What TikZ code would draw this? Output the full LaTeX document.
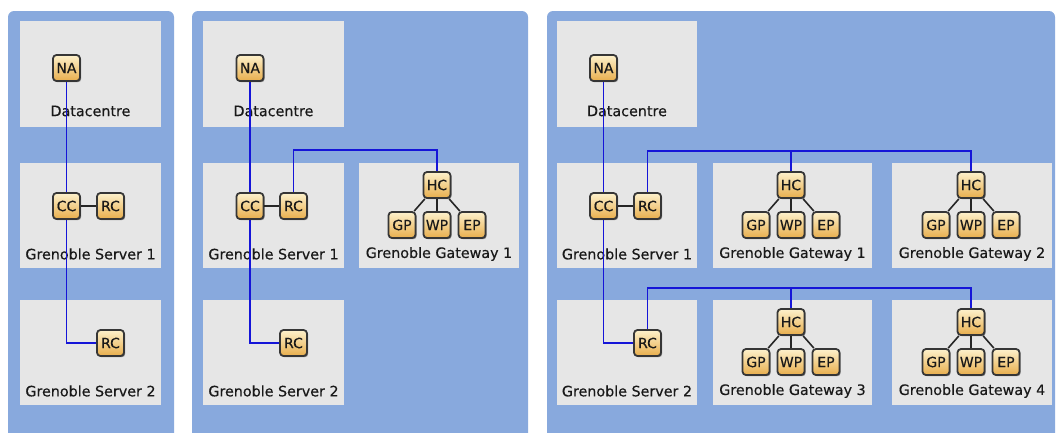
\documentclass[tikz,border=0pt]{standalone}
\usepackage{fontspec}
\setmainfont{DejaVu Sans}[BoldFont=DejaVu Sans, BoldFeatures={FakeBold=0.35}]
\usetikzlibrary{shadows}
\pgfdeclarelayer{back}
\pgfdeclarelayer{links}
\pgfsetlayers{back,links,main}
\definecolor{panelblue}{HTML}{88A9DD}
\definecolor{boxgrey}{HTML}{E6E6E6}
\definecolor{linkblue}{HTML}{1515D8}
\definecolor{nodetop}{HTML}{FDF1CC}
\definecolor{nodebot}{HTML}{E8AE4C}
\definecolor{nodeedge}{HTML}{363636}
\tikzset{
  panel/.style={fill=panelblue, draw=none, rounded corners=6pt},
  hostbox/.style={fill=boxgrey, draw=none},
  hostlabel/.style={font=\fontsize{14.3}{16}\selectfont\bfseries, text=black!90, inner sep=0pt},
  comp/.style={draw=nodeedge, line width=1.8pt, rounded corners=3.5pt,
    top color=nodetop, bottom color=nodebot, minimum width=27pt, minimum height=26pt,
    inner sep=1pt, font=\fontsize{14}{15}\selectfont\bfseries, text=black!90,
    drop shadow={shadow xshift=1.2pt, shadow yshift=-1.2pt, opacity=0.45, fill=black}},
  blueline/.style={draw=linkblue, line width=1.4pt},
  blackline/.style={draw=black!85, line width=1.6pt},
}
\begin{document}
\begin{tikzpicture}[x=1pt,y=-1pt]
\useasboundingbox (0,0) rectangle (1058,432);
\begin{pgfonlayer}{back}
% panels
\fill[panel] (8,11) rectangle (174,445);
\fill[panel] (192,11) rectangle (528,445);
\fill[panel] (547,11) rectangle (1055,445);
% first configuration
\fill[hostbox] (20,21) rectangle (161,127);
\fill[hostbox] (20,163) rectangle (161,268);
\fill[hostbox] (20,300) rectangle (161,405);
\node[hostlabel] (l1a) at (90.5,111) {Datacentre};
\node[hostlabel] (l1b) at (90.5,254) {Grenoble Server 1};
\node[hostlabel] (l1c) at (90.5,391) {Grenoble Server 2};
% second configuration
\fill[hostbox] (203,21) rectangle (344,127);
\fill[hostbox] (203,163) rectangle (344,268);
\fill[hostbox] (203,300) rectangle (344,405);
\fill[hostbox] (359,163) rectangle (519,268);
\node[hostlabel] (l2a) at (273.5,111) {Datacentre};
\node[hostlabel] (l2b) at (273.5,254) {Grenoble Server 1};
\node[hostlabel] (l2c) at (273.5,391) {Grenoble Server 2};
\node[hostlabel] (l2d) at (439,254) {Grenoble Gateway 1};
% third configuration
\fill[hostbox] (557,21) rectangle (697,127);
\fill[hostbox] (557,163) rectangle (697,268);
\fill[hostbox] (557,300) rectangle (697,405);
\fill[hostbox] (713,163) rectangle (872,268);
\fill[hostbox] (892,163) rectangle (1052,268);
\fill[hostbox] (713,300) rectangle (872,405);
\fill[hostbox] (892,300) rectangle (1052,405);
\node[hostlabel] (l3a) at (627,111) {Datacentre};
\node[hostlabel] (l3b) at (627,254) {Grenoble Server 1};
\node[hostlabel] (l3c) at (627,391) {Grenoble Server 2};
\node[hostlabel] (l3d) at (792.5,254) {Grenoble Gateway 1};
\node[hostlabel] (l3e) at (972,254) {Grenoble Gateway 2};
\node[hostlabel] (l3f) at (792.5,391) {Grenoble Gateway 3};
\node[hostlabel] (l3g) at (972,391) {Grenoble Gateway 4};
\end{pgfonlayer}

% components, configuration 1
\node[comp] (na1) at (66.5,68) {NA};
\node[comp] (cc1) at (66.5,206) {CC};
\node[comp] (rc1) at (110.5,206) {RC};
\node[comp] (rs1) at (110.5,343) {RC};
% components, configuration 2
\node[comp] (na2) at (250,68) {NA};
\node[comp] (cc2) at (250,206) {CC};
\node[comp] (rc2) at (293.5,206) {RC};
\node[comp] (rs2) at (293.5,343) {RC};
\node[comp] (hc2) at (437,185) {HC};
\node[comp] (gp2) at (402,225) {GP};
\node[comp] (wp2) at (437,225) {WP};
\node[comp] (ep2) at (472,225) {EP};
% components, configuration 3
\node[comp] (na3) at (603.5,68) {NA};
\node[comp] (cc3) at (603.5,206) {CC};
\node[comp] (rc3) at (647.5,206) {RC};
\node[comp] (rs3) at (647.5,343) {RC};
\foreach \g/\x/\y in {1/791/185, 2/971/185, 3/791/322, 4/971/322}{
  \node[comp] (hc3\g) at (\x,\y) {HC};
  \node[comp] (gp3\g) at (\x-35,\y+40) {GP};
  \node[comp] (wp3\g) at (\x,\y+40) {WP};
  \node[comp] (ep3\g) at (\x+35,\y+40) {EP};
}

% bus coordinates
\coordinate (bus2) at (437,150);
\coordinate (bus3a) at (971,151);
\coordinate (bus3b) at (971,288);

\begin{pgfonlayer}{links}
% local links
\draw[blackline] (cc1) -- (rc1);
\draw[blackline] (cc2) -- (rc2);
\draw[blackline] (cc3) -- (rc3);
\foreach \h/\a/\b/\c in {hc2/gp2/wp2/ep2, hc31/gp31/wp31/ep31, hc32/gp32/wp32/ep32,
    hc33/gp33/wp33/ep33, hc34/gp34/wp34/ep34}{
  \draw[blackline] (\h) -- (\a);
  \draw[blackline] (\h) -- (\b);
  \draw[blackline] (\h) -- (\c);
}
% network links
\draw[blueline] (na1) -- (cc1);
\draw[blueline] (cc1) |- (rs1);
\draw[blueline] (na2) -- (cc2);
\draw[blueline] (cc2) |- (rs2);
\draw[blueline] (rc2) |- (bus2) -- (hc2);
\draw[blueline] (na3) -- (cc3);
\draw[blueline] (cc3) |- (rs3);
\draw[blueline] (rc3) |- (bus3a) -- (hc32);
\draw[blueline] (hc31) -- (hc31 |- bus3a);
\draw[blueline] (rs3) |- (bus3b) -- (hc34);
\draw[blueline] (hc33) -- (hc33 |- bus3b);
\end{pgfonlayer}
\end{tikzpicture}
\end{document}
